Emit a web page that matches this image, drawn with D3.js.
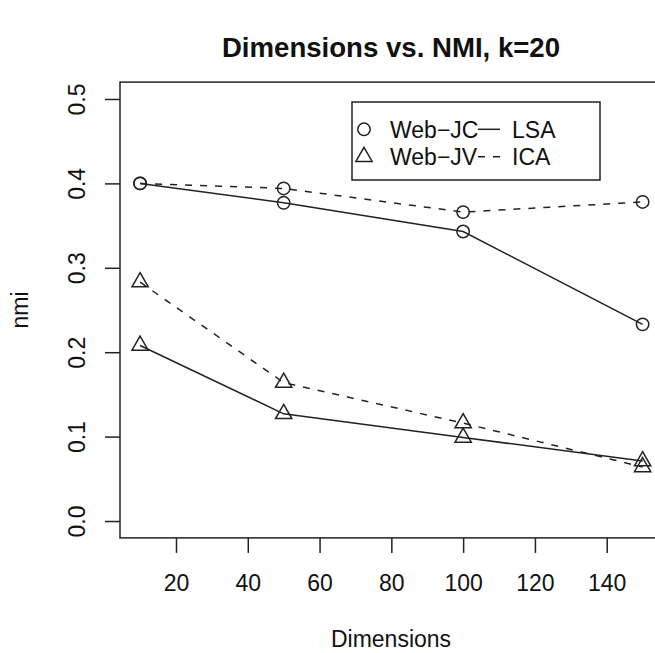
<!DOCTYPE html>
<html><head><meta charset="utf-8">
<script src="https://cdn.jsdelivr.net/npm/d3@7"></script>
<style>body{margin:0;background:#fff}svg{display:block}text{font-family:"Liberation Sans",Arial,Helvetica,sans-serif;fill:#111}</style>
</head><body>
<script>
const dims = [10, 50, 100, 150];
const webJC_LSA = [0.400, 0.377, 0.343, 0.233];
const webJC_ICA = [0.400, 0.394, 0.366, 0.378];
const webJV_LSA = [0.208, 0.127, 0.099, 0.071];
const webJV_ICA = [0.283, 0.164, 0.116, 0.064];
const xTicks = [20, 40, 60, 80, 100, 120, 140];
const yTicks = [0.0, 0.1, 0.2, 0.3, 0.4, 0.5];
const series = [
  {vals: webJC_LSA, shape: "circle", dash: null},
  {vals: webJC_ICA, shape: "circle", dash: "7,8"},
  {vals: webJV_LSA, shape: "triangle", dash: null},
  {vals: webJV_ICA, shape: "triangle", dash: "7,8"}
];

const W = 655, H = 653;
const svg = d3.select("body").append("svg").attr("width", W).attr("height", H);
const x = d3.scaleLinear().domain([4.4, 155.6]).range([120, 662.7]);
const y = d3.scaleLinear().domain([-0.02, 0.52]).range([537.9, 82.1]);
const ink = "#222";
const fs = 23;

svg.append("rect").attr("x", x(4.4)).attr("y", y(0.52))
  .attr("width", x(155.6) - x(4.4)).attr("height", y(-0.02) - y(0.52))
  .attr("fill", "none").attr("stroke", ink).attr("stroke-width", 1.5);

const xa = svg.append("g").attr("transform", `translate(0,${y(-0.02)})`)
  .call(d3.axisBottom(x).tickValues(xTicks).tickSize(15).tickPadding(0).tickFormat(d3.format("d")));
xa.select(".domain").remove();
xa.selectAll("line").attr("stroke", ink).attr("stroke-width", 1.5);
xa.selectAll("text").attr("font-size", fs).attr("dy", null).attr("y", 53).style("font-family", '"Liberation Sans",Arial,sans-serif').attr("fill", "#111");

const ya = svg.append("g").attr("transform", `translate(${x(4.4)},0)`)
  .call(d3.axisLeft(y).tickValues(yTicks).tickSize(15).tickFormat(d3.format(".1f")));
ya.select(".domain").remove();
ya.selectAll("line").attr("stroke", ink).attr("stroke-width", 1.5);
ya.selectAll("text").attr("font-size", fs).attr("x", null).attr("dy", null)
  .attr("text-anchor", "middle")
  .attr("transform", "translate(-35,0) rotate(-90)")
  .style("font-family", '"Liberation Sans",Arial,sans-serif').attr("fill", "#111");

svg.append("text").attr("x", 391).attr("y", 57).attr("text-anchor", "middle")
  .attr("font-size", 27.6).attr("font-weight", "bold").text("Dimensions vs. NMI, k=20");
svg.append("text").attr("x", 391).attr("y", 647).attr("text-anchor", "middle")
  .attr("font-size", fs).text("Dimensions");
svg.append("text").attr("transform", "translate(28,310) rotate(-90)").attr("text-anchor", "middle")
  .attr("font-size", fs).text("nmi");

svg.append("clipPath").attr("id", "c").append("rect")
  .attr("x", 120).attr("y", 82).attr("width", 600).attr("height", 456);
const plot = svg.append("g").attr("clip-path", "url(#c)");

const line = d3.line().x((d, i) => x(dims[i])).y(d => y(d));
const triPath = r => `M0,${-r}L${r*Math.sqrt(3)/2},${r/2}L${-r*Math.sqrt(3)/2},${r/2}Z`;
function marker(g, shape, cx, cy) {
  if (shape === "circle") {
    g.append("circle").attr("cx", cx).attr("cy", cy).attr("r", 6.2)
      .attr("fill", "none").attr("stroke", ink).attr("stroke-width", 1.5);
  } else {
    g.append("path").attr("d", triPath(9.4)).attr("transform", `translate(${cx},${cy})`)
      .attr("fill", "none").attr("stroke", ink).attr("stroke-width", 1.5);
  }
}
series.forEach(s => {
  plot.append("path").attr("d", line(s.vals)).attr("fill", "none").attr("stroke", ink)
    .attr("stroke-width", 1.5).attr("stroke-dasharray", s.dash);
  s.vals.forEach((v, i) => marker(plot, s.shape, x(dims[i]), y(v)));
});

const lg = svg.append("g");
lg.append("rect").attr("x", 352).attr("y", 102).attr("width", 248).attr("height", 78)
  .attr("fill", "#fff").attr("stroke", ink).attr("stroke-width", 1.5);
const rows = [129.3, 156.7];
const lab1 = ["Web\u2212JC", "Web\u2212JV"];
const lab2 = ["LSA", "ICA"];
const shapes = ["circle", "triangle"];
const dashes = [null, "7,8"];
rows.forEach((ry, i) => {
  marker(lg, shapes[i], 364, ry);
  lg.append("text").attr("x", 390).attr("y", ry + 8.3).attr("font-size", fs).text(lab1[i]);
  lg.append("line").attr("x1", 478).attr("x2", 500).attr("y1", ry).attr("y2", ry)
    .attr("stroke", ink).attr("stroke-width", 1.5).attr("stroke-dasharray", dashes[i]);
  lg.append("text").attr("x", 512).attr("y", ry + 8.3).attr("font-size", fs).text(lab2[i]);
});
</script>
</body></html>
